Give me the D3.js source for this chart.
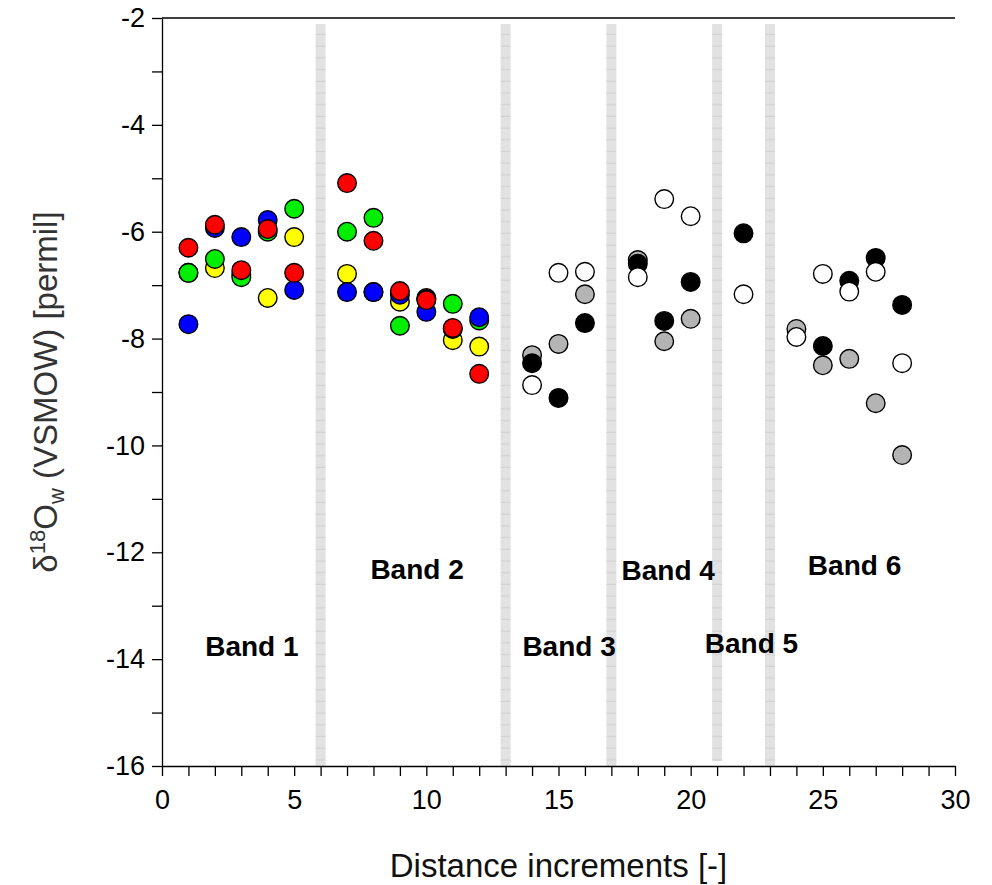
<!DOCTYPE html>
<html><head><meta charset="utf-8">
<script src="https://cdn.jsdelivr.net/npm/d3@7"></script>
<style>body{margin:0;background:#fff}svg{display:block}text{font-family:Arial,"Liberation Sans",sans-serif}</style>
</head><body><svg id="c" width="992" height="885"></svg>
<script>
// Band 1-2 (coloured series)
const xsColor = [1,2,3,4,5,7,8,9,10,11,12];
const yellowVals = [-6.77,-6.68,-6.80,-7.24,-6.10,-6.79,-7.13,-7.31,-7.24,-8.03,-8.15];
const greenVals  = [-6.77,-6.51,-6.85,-6.00,-5.57,-6.00,-5.74,-7.76,-7.26,-7.35,-7.66];
const blueVals   = [-7.73,-5.93,-6.10,-5.78,-7.09,-7.13,-7.13,-7.18,-7.50,-7.82,-7.60];
const redVals    = [-6.30,-5.87,-6.72,-5.95,-6.77,-5.09,-6.17,-7.11,-7.28,-7.80,-8.66];
// Band 3-6 (grey-scale series)
const xsGrey = [14,15,16,18,19,20,22,24,25,26,27,28];
const greyVals  = [-8.31,-8.10,-7.17,-6.53,-8.05,-7.63,null,-7.82,-8.50,-8.38,-9.21,-10.18];
const blackVals = [-8.46,-9.11,-7.71,-6.60,-7.67,-6.94,-6.03,null,-8.14,-6.92,-6.49,-7.37];
const whiteVals = [-8.87,-6.77,-6.75,-6.85,-5.39,-5.71,-7.17,-7.97,-6.79,-7.12,-6.75,-8.46];
// band separators and labels
const separators = [6,13,17,21,23];
const bandLabels = ["Band 1","Band 2","Band 3","Band 4","Band 5","Band 6"];
const bandLabelX = [3.4,9.65,15.4,19.15,22.3,26.2];
const bandLabelY = [-13.95,-12.5,-13.95,-12.52,-13.88,-12.42];
const xTicks = d3.range(0,31,1);
const yTicks = d3.range(-16,-1,1);

const svg = d3.select("#c");
const x = d3.scaleLinear().domain([0,30]).range([162,955]);
const y = d3.scaleLinear().domain([-16,-2]).range([766,18]);

// pattern for separator bars
const defs = svg.append("defs");
const pat = defs.append("pattern").attr("id","stripe").attr("patternUnits","userSpaceOnUse")
  .attr("width",12).attr("height",11.7);
pat.append("rect").attr("width",12).attr("height",11.7).attr("fill","#e2e2e2");
pat.append("rect").attr("y",10.5).attr("width",12).attr("height",1.2).attr("fill","#d2d2d2");

svg.append("g").selectAll("rect").data(separators).join("rect")
  .attr("x",d=>x(d)-5).attr("width",10)
  .attr("y",y(-2)+6).attr("height",d=> y(-16)-y(-2)-6 - (d===21?5:0))
  .attr("fill","url(#stripe)");

// top frame line
svg.append("line").attr("x1",x(0)).attr("x2",x(30)).attr("y1",y(-2)).attr("y2",y(-2))
  .attr("stroke","#000").attr("stroke-width",1.3);

// axes
const ax = svg.append("g").attr("transform",`translate(0,${y(-16)})`)
  .call(d3.axisBottom(x).tickValues(xTicks).tickSize(10).tickSizeOuter(0).tickPadding(14)
    .tickFormat(d=> d%5===0 ? String(d) : ""));
const ay = svg.append("g").attr("transform",`translate(${x(0)},0)`)
  .call(d3.axisLeft(y).tickValues(yTicks).tickSize(10).tickSizeOuter(0).tickPadding(7)
    .tickFormat(d=> d%2===0 ? String(d) : ""));
[ax,ay].forEach(g=>{
  g.selectAll("path,line").attr("stroke","#000").attr("stroke-width",1.3);
  g.selectAll("text").attr("font-size",27).attr("fill","#000").attr("font-family","Arial, 'Liberation Sans', sans-serif");
});

// series
function drawSeries(xs, vals, fill){
  const pts = xs.map((xv,i)=>({x:xv,y:vals[i]})).filter(d=>d.y!==null);
  svg.append("g").selectAll("circle").data(pts).join("circle")
    .attr("cx",d=>x(d.x)).attr("cy",d=>y(d.y)).attr("r",9.3)
    .attr("fill",fill).attr("stroke","#000").attr("stroke-width",1.4);
}
drawSeries(xsColor, yellowVals, "#ffff00");
drawSeries(xsColor, greenVals, "#00ee00");
drawSeries(xsColor, blueVals, "#0000ff");
drawSeries(xsColor, redVals, "#ff0000");
drawSeries(xsGrey, greyVals, "#b4b4b4");
drawSeries(xsGrey, blackVals, "#000000");
drawSeries(xsGrey, whiteVals, "#ffffff");

// band labels
svg.append("g").selectAll("text").data(bandLabels).join("text")
  .attr("x",(d,i)=>x(bandLabelX[i])).attr("y",(d,i)=>y(bandLabelY[i]))
  .attr("text-anchor","middle").attr("font-size",28).attr("font-weight","bold").attr("fill","#000")
  .text(d=>d);

// axis titles
svg.append("text").attr("x",(x(0)+x(30))/2).attr("y",877).attr("text-anchor","middle")
  .attr("font-size",33).attr("fill","#111").text("Distance increments [-]");
const yt = svg.append("text").attr("transform","translate(57,392) rotate(-90)")
  .attr("text-anchor","middle").attr("font-size",33).attr("fill","#333");
yt.append("tspan").text("δ");
yt.append("tspan").attr("font-size",22).attr("dy",-12).text("18");
yt.append("tspan").attr("dy",12).text("O");
yt.append("tspan").attr("font-size",22).attr("dy",7).text("w");
yt.append("tspan").attr("dy",-7).text(" (VSMOW) [permil]");
</script></body></html>
